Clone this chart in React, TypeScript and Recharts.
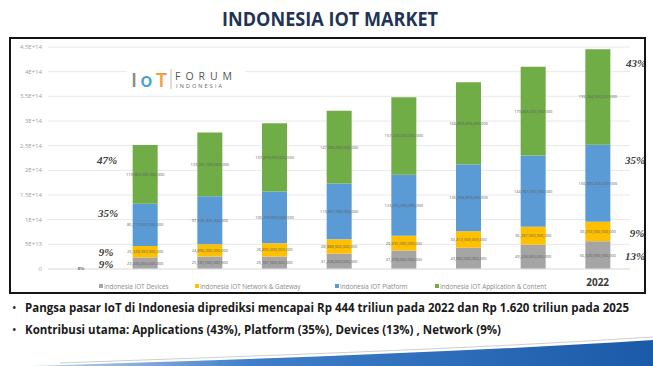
import React from "react";
import { BarChart, Bar, XAxis, YAxis, CartesianGrid, LabelList } from "recharts";

const categories = ["2014", "2015", "2016", "2017", "2018", "2019", "2020", "2021", "2022"];
const devices = [0, 23436000000000, 25187000000000, 25167000000000, 31228000000000, 37478000000000, 43082000000000, 49228000000000, 56320000000000];
const network = [0, 23328000000000, 24896000000000, 26895000000000, 28888000000000, 29835000000000, 33414000000000, 36287000000000, 39292000000000];
const platform = [0, 85717000000000, 97376000000000, 105270000000000, 113261000000000, 123553000000000, 135393000000000, 144765000000000, 156393000000000];
const application = [0, 119065000000000, 129281000000000, 137879000000000, 147282000000000, 157220000000000, 166853000000000, 179468000000000, 193284000000000];

const yTicks = [0, 5e13, 1e14, 1.5e14, 2e14, 2.5e14, 3e14, 3.5e14, 4e14, 4.5e14];
const yTickLabels = ["0", "5E+13", "1E+14", "1.5E+14", "2E+14", "2.5E+14", "3E+14", "3.5E+14", "4E+14", "4.5E+14"];

const seriesNames = ["Indonesia IOT Devices", "Indonesia IOT Network & Gateway", "Indonesia IOT Platform", "Indonesia IOT Application & Content"];
const seriesColors = ["#a5a5a5", "#ffc000", "#5b9bd5", "#70ad47"];

const leftShares = ["47%", "35%", "9%", "9%"];
const rightShares = ["43%", "35%", "9%", "13%"];
const firstShare = "0%";

const title = "INDONESIA IOT MARKET";
const bullets = [
  "Pangsa pasar IoT di Indonesia diprediksi mencapai Rp 444 triliun pada 2022 dan Rp 1.620 triliun pada 2025",
  "Kontribusi utama: Applications (43%), Platform (35%), Devices (13%) , Network (9%)",
];

const fmt = (v: any) => (v ? Math.round(Number(v)).toLocaleString("en-US") : "");

const XTick = (props: any) => {
  const { x, y, payload } = props;
  if (payload.value !== "2022") return null;
  return (
    <text x={x} y={y + 9} textAnchor="middle" fontSize={10} fontWeight={700} fill="#3a3a3a" fontFamily="'Open Sans', sans-serif">
      {payload.value}
    </text>
  );
};

export default function App() {
  const data = categories.map((c, i) => ({
    year: c,
    devices: devices[i],
    network: network[i],
    platform: platform[i],
    application: application[i],
  }));
  const keys = ["devices", "network", "platform", "application"];
  const pctStyle = { fontFamily: "'Liberation Serif', serif", fontWeight: 700, fontStyle: "italic" as const, fontSize: 11, fill: "#404040" };
  const bulletScale = 0.8;
  const bulletWidths = [604, 476];
  return (
    <div style={{ position: "absolute", left: 0, top: 0, width: 653, height: 366, background: "#fff", overflow: "hidden" }}>
      <svg width={653} height={36} style={{ position: "absolute", left: 0, top: 0 }}>
        <text x={330} y={26} textAnchor="middle" fontSize={19} fontWeight={700} fill="#1f3456" fontFamily="'Open Sans', sans-serif" textLength={216} lengthAdjust="spacingAndGlyphs">
          {title}
        </text>
      </svg>
      <div style={{ position: "absolute", left: 0, top: 0 }}>
        <BarChart width={653} height={300} data={data} margin={{ top: 47, right: 23, bottom: 19, left: 8 }} barSize={25}>
          <CartesianGrid vertical={false} stroke="#e8e8e8" />
          <XAxis dataKey="year" height={12} tickLine={false} axisLine={{ stroke: "#e4e4e4" }} interval={0} tick={<XTick />} />
          <YAxis
            width={40}
            domain={[0, 4.5e14]}
            ticks={yTicks}
            tickFormatter={(v: number) => yTickLabels[yTicks.indexOf(v)] ?? ""}
            tick={{ fontSize: 6, fill: "#a0a0a0", fontFamily: "'Open Sans', sans-serif" }}
            tickLine={false}
            axisLine={false}
            tickSize={0}
            tickMargin={6}
          />
          {keys.map((k, i) => (
            <Bar key={k} dataKey={k} name={seriesNames[i]} stackId="a" fill={seriesColors[i]} isAnimationActive={false}>
              <LabelList dataKey={k} position="center" formatter={fmt} fontSize={4} fill="#606060" fontFamily="'Open Sans', sans-serif" />
            </Bar>
          ))}
        </BarChart>
      </div>
      {/* logo */}
      <div style={{ position: "absolute", left: 127, top: 61, width: 118, height: 30, background: "#fff" }} />
      <svg width={653} height={366} style={{ position: "absolute", left: 0, top: 0, pointerEvents: "none" }}>
        <text x={131} y={87} fontSize={20} fontFamily="'Open Sans', sans-serif" fontWeight={600} textLength={36} lengthAdjust="spacing">
          <tspan fill="#8a8a8a">I</tspan>
          <tspan fill="#4a9fd5">o</tspan>
          <tspan fill="#f0a040">T</tspan>
        </text>
        <line x1={171} y1={69} x2={171} y2={89} stroke="#bbb" strokeWidth={1} />
        <text x={175} y={80} fontSize={10.5} fill="#555" fontFamily="'Open Sans', sans-serif" textLength={57} lengthAdjust="spacing">FORUM</text>
        <text x={176} y={88} fontSize={5.5} fill="#666" fontFamily="'Open Sans', sans-serif" textLength={46} lengthAdjust="spacing">INDONESIA</text>

        {/* share labels */}
        <text x={107} y={164} textAnchor="middle" {...pctStyle}>{leftShares[0]}</text>
        <text x={108} y={217} textAnchor="middle" {...pctStyle}>{leftShares[1]}</text>
        <text x={106} y={256} textAnchor="middle" {...pctStyle}>{leftShares[2]}</text>
        <text x={106} y={268} textAnchor="middle" {...pctStyle}>{leftShares[3]}</text>
        <text x={81} y={270} textAnchor="middle" {...pctStyle} fontSize={5}>{firstShare}</text>
        <text x={636} y={67} textAnchor="middle" {...pctStyle}>{rightShares[0]}</text>
        <text x={635} y={164} textAnchor="middle" {...pctStyle}>{rightShares[1]}</text>
        <text x={637} y={237} textAnchor="middle" {...pctStyle}>{rightShares[2]}</text>
        <text x={635} y={260} textAnchor="middle" {...pctStyle}>{rightShares[3]}</text>

        {/* legend */}
        {seriesNames.map((n, i) => {
          const xs = [99, 195, 335, 435];
          return (
            <g key={n}>
              <rect x={xs[i]} y={284} width={4} height={4} fill={seriesColors[i]} />
              <text x={xs[i] + 5} y={288.5} fontSize={6.3} fill="#8a8a8a" fontFamily="'Open Sans', sans-serif">{n}</text>
            </g>
          );
        })}

        {/* bullets */}
        {bullets.map((b, i) => (
          <g key={i}>
            <text x={12} y={312 + i * 22} fontSize={12} fill="#222" fontFamily="'Open Sans', sans-serif">•</text>
            <g transform={`translate(25, ${312 + i * 22}) scale(${bulletScale}, 1)`}>
              <text x={0} y={0} fontSize={13} fontWeight={700} fill="#1a1a1a" fontFamily="'Open Sans', sans-serif" textLength={bulletWidths[i] / bulletScale} lengthAdjust="spacingAndGlyphs">
                {b}
              </text>
            </g>
          </g>
        ))}

        {/* swoosh */}
        <defs>
          <linearGradient id="sw" x1="0" x2="1" y1="0" y2="0">
            <stop offset="0" stopColor="#c9d9ee" />
            <stop offset="0.35" stopColor="#3f7fc9" />
            <stop offset="1" stopColor="#1b5aa8" />
          </linearGradient>
        </defs>
        <path d="M 60 363 C 250 356, 450 350, 653 337" stroke="#cfcfcf" strokeWidth={1} fill="none" />
        <path d="M 30 366 C 230 360, 450 353, 653 340 L 653 366 Z" fill="url(#sw)" />
      </svg>
      {/* frame */}
      <div style={{ position: "absolute", left: 9, top: 37, width: 637, height: 257, border: "2px solid #151515", boxSizing: "border-box" }} />
    </div>
  );
}
